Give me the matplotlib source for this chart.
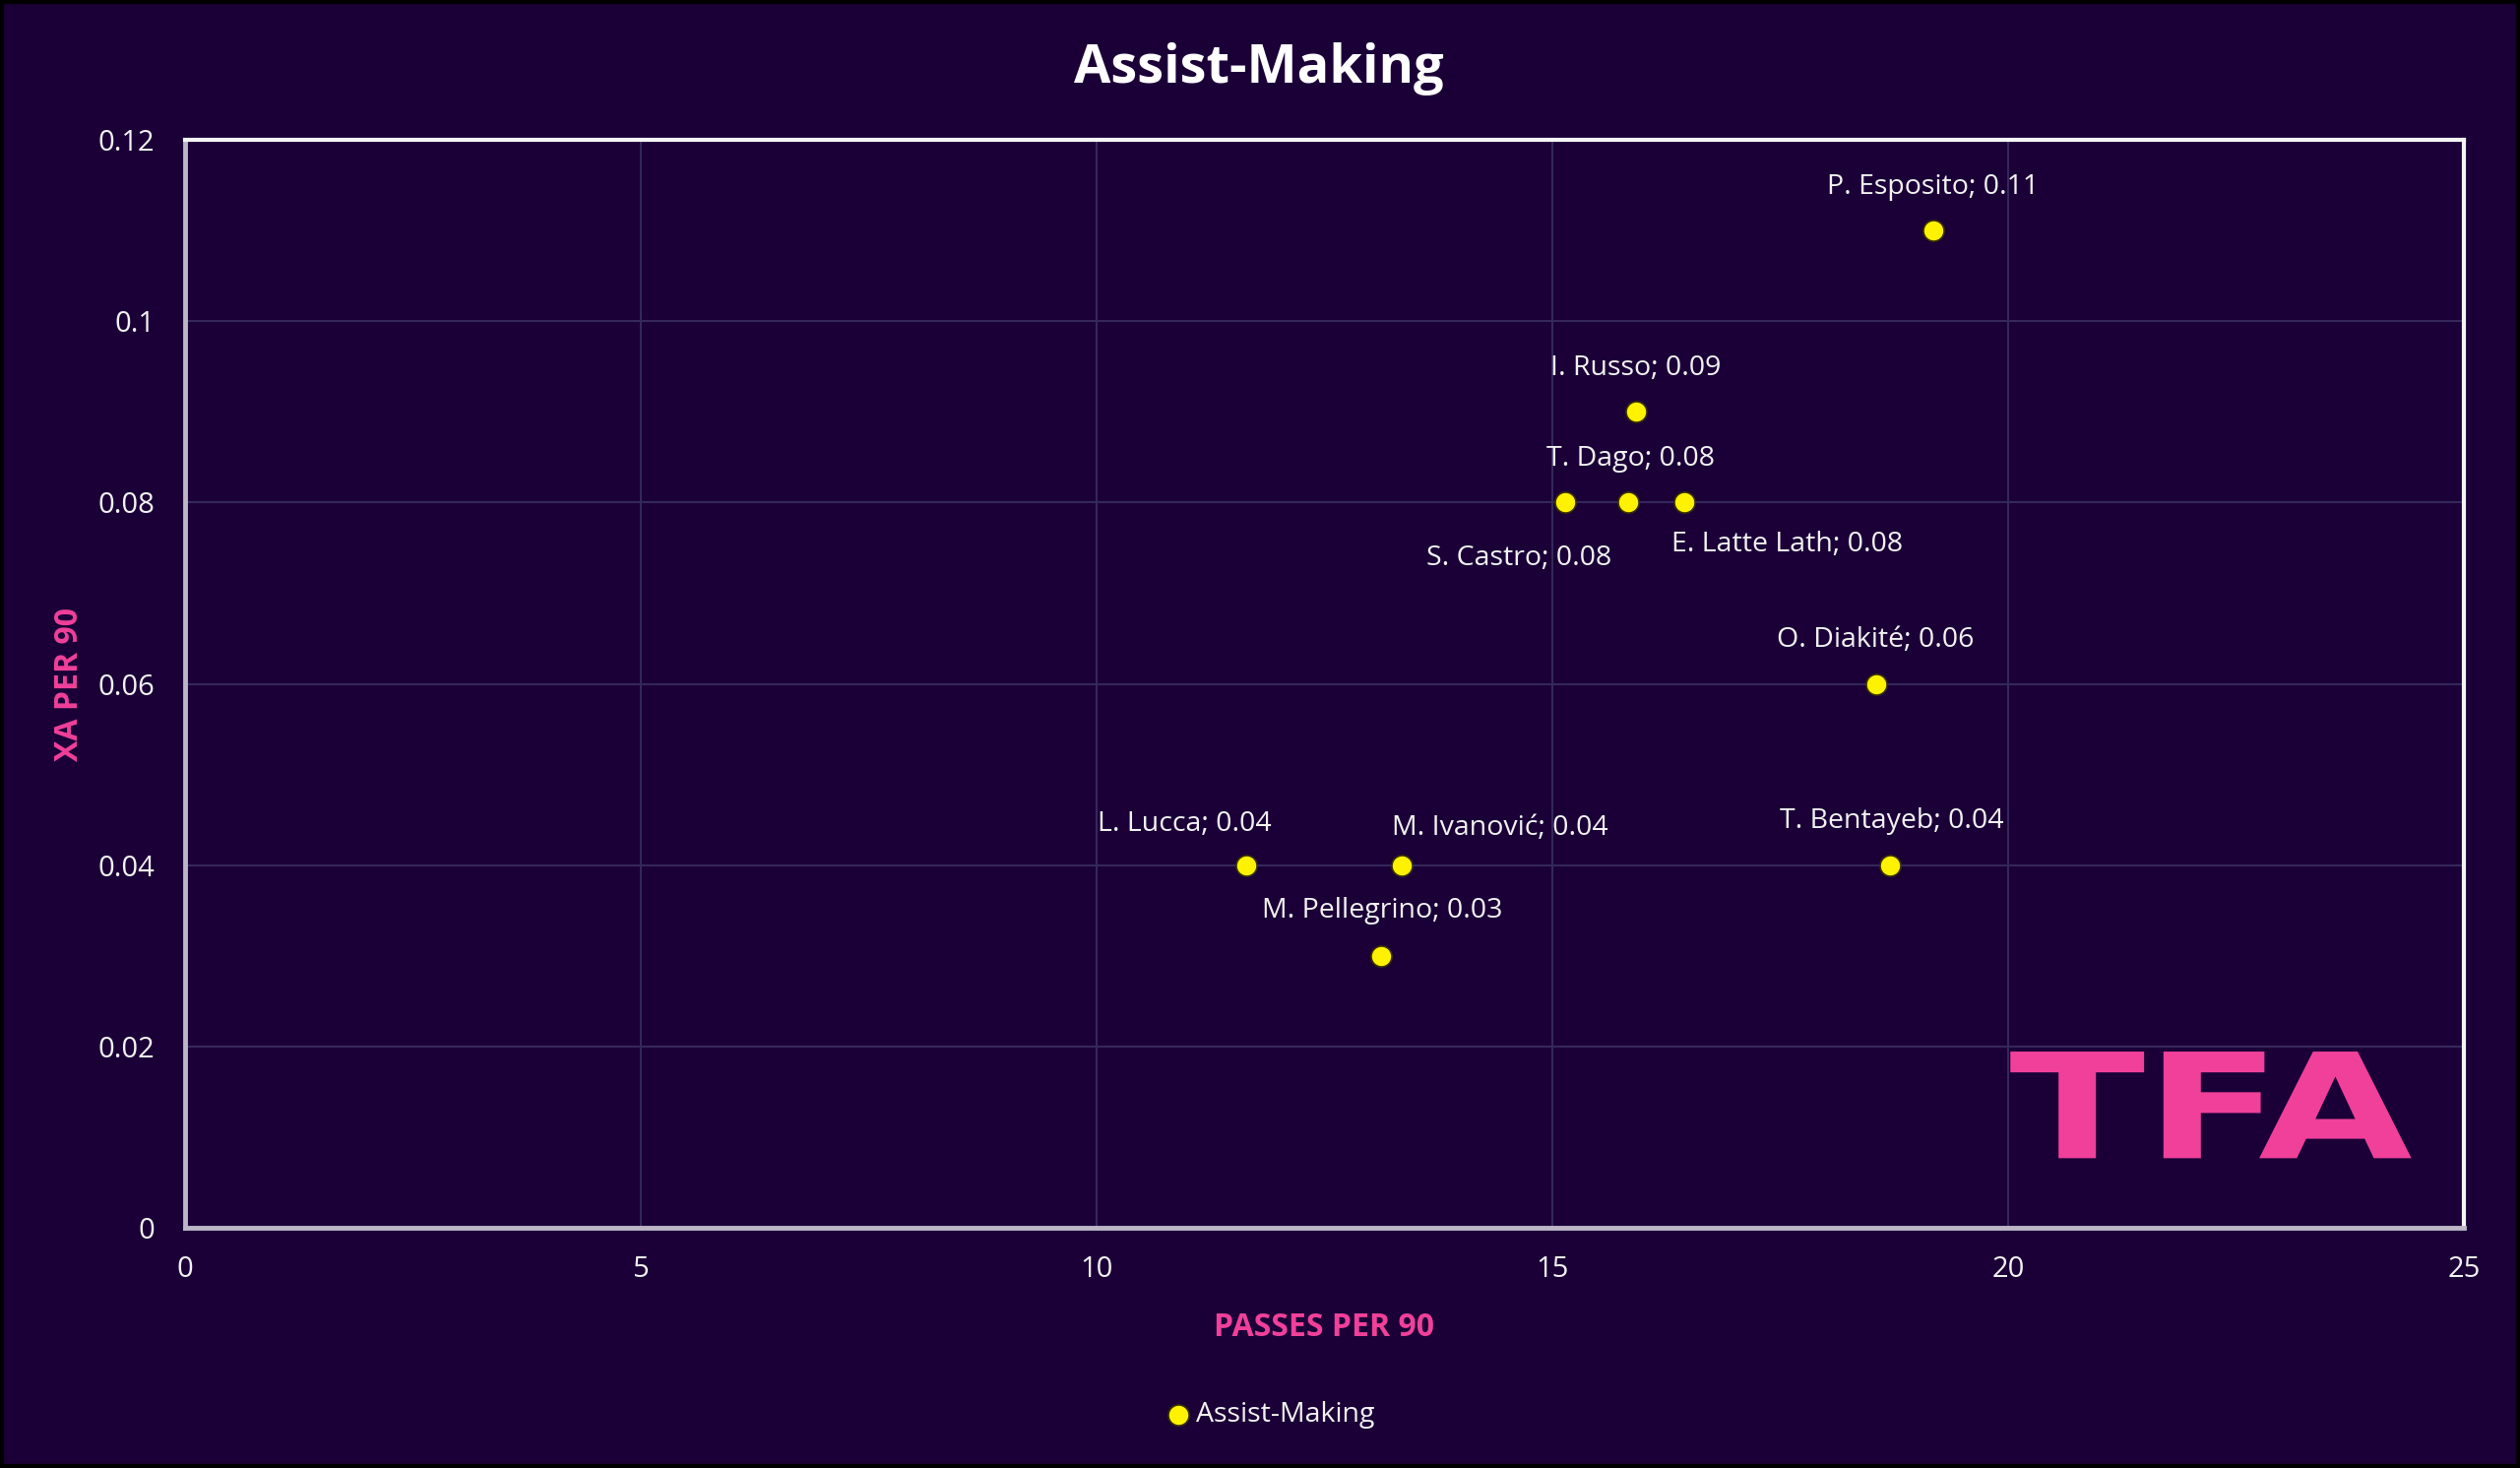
import matplotlib.pyplot as plt
from matplotlib.patches import Rectangle, PathPatch
from matplotlib.textpath import TextPath
from matplotlib.font_manager import FontProperties
from matplotlib.transforms import Affine2D

# Data
players = ["P. Esposito", "I. Russo", "S. Castro", "T. Dago", "E. Latte Lath",
           "O. Diakité", "T. Bentayeb", "L. Lucca", "M. Ivanović", "M. Pellegrino"]
passes_per_90 = [19.18, 15.92, 15.14, 15.83, 16.45, 18.55, 18.71, 11.64, 13.35, 13.12]
xa_per_90 = [0.11, 0.09, 0.08, 0.08, 0.08, 0.06, 0.04, 0.04, 0.04, 0.03]

x_ticks = [0, 5, 10, 15, 20, 25]
y_ticks = [0, 0.02, 0.04, 0.06, 0.08, 0.1, 0.12]
y_tick_labels = ["0", "0.02", "0.04", "0.06", "0.08", "0.1", "0.12"]

# label offsets in points (layout only)
label_offsets = [(0, 32), (0, 32), (-34, -41), (2, 32), (75, -31),
                 (0, 32), (1, 32), (-45, 30), (72, 27), (1, 33)]

bg = "#1b0038"
pink = "#f0409a"
yellow = "#fff200"
grid_col = "#34285c"
text_col = "#f2f2f2"

plt.rcParams['font.family'] = ['Open Sans', 'DejaVu Sans']

fig = plt.figure(figsize=(25.6, 14.91), dpi=100, facecolor=bg)
ax = fig.add_axes([0.0734, 0.1636, 0.9043, 0.7412], facecolor=bg)

# Scatter points
ax.scatter(passes_per_90, xa_per_90, s=230, color=yellow, edgecolor="#3a3000",
           linewidth=1.2, zorder=3, label="Assist-Making")

# Data labels
for name, x, y, off in zip(players, passes_per_90, xa_per_90, label_offsets):
    ax.annotate(f"{name}; {y:g}", (x, y), xytext=off, textcoords="offset points",
                ha="center", va="center", color=text_col, fontsize=20.5)

ax.set_xlim(0, 25)
ax.set_ylim(0, 0.12)
ax.set_xticks(x_ticks)
ax.set_yticks(y_ticks)
ax.set_yticklabels(y_tick_labels)
ax.tick_params(colors=text_col, labelsize=21, length=0)
ax.tick_params(axis="y", pad=22)
ax.tick_params(axis="x", pad=20)
ax.grid(True, color=grid_col, linewidth=1.5)
ax.set_axisbelow(True)

for side in ["top", "right"]:
    ax.spines[side].set_color("#f5f5f5")
    ax.spines[side].set_linewidth(3)
for side in ["left", "bottom"]:
    ax.spines[side].set_color("#bdb6c6")
    ax.spines[side].set_linewidth(3.5)

# Axis titles
ax.set_xlabel("PASSES PER 90", color=pink, fontsize=23, fontweight="bold",
              labelpad=20)
ax.set_ylabel("XA PER 90", color=pink, fontsize=23, fontweight="bold",
              labelpad=9)

# Title
fig.text(0.4997, 0.953, "Assist-Making", ha="center", va="center",
         color="white", fontsize=39, fontweight="bold")

# Legend
leg = fig.legend(loc="center", bbox_to_anchor=(0.501, 0.036), frameon=False,
                 fontsize=20.5, handletextpad=-0.35, markerscale=1.0,
                 labelcolor=text_col)

# TFA logo, stretched to fill its box in axes coordinates
logo = TextPath((0, 0), "TFA", size=1,
                prop=FontProperties(family="DejaVu Sans", weight="heavy"))
ext = logo.get_extents()
box_x0, box_x1, box_y0, box_y1 = 0.801, 0.977, 0.064, 0.162
tr = (Affine2D().translate(-ext.x0, -ext.y0)
      .scale((box_x1 - box_x0) / ext.width, (box_y1 - box_y0) / ext.height)
      .translate(box_x0, box_y0))
ax.add_patch(PathPatch(tr.transform_path(logo), transform=ax.transAxes,
                       facecolor=pink, edgecolor="none", zorder=2))

# Figure border
fig.patches.append(Rectangle((0, 0), 1, 1, transform=fig.transFigure, fill=False,
                             edgecolor="black", linewidth=6))

plt.savefig("out.png", dpi=100, facecolor=bg)
